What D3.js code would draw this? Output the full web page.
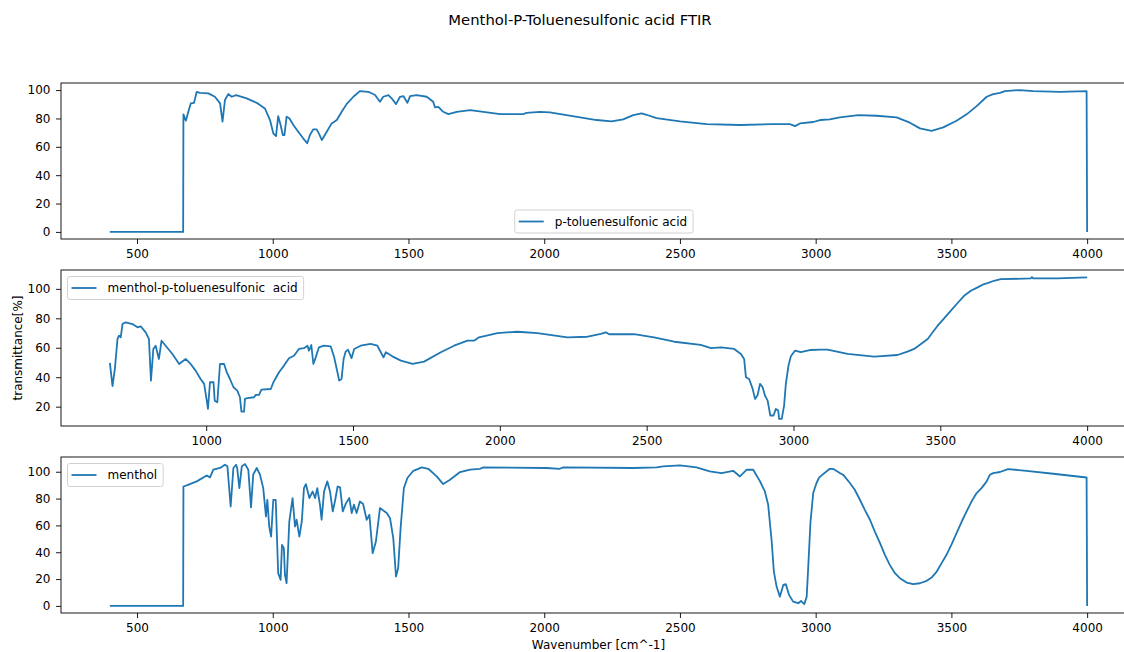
<!DOCTYPE html>
<html>
<head>
<meta charset="utf-8">
<script src="https://cdn.jsdelivr.net/npm/d3@7"></script>
<style>
  body { margin: 0; background: #fff; }
  svg { display: block; font-family: "DejaVu Sans", sans-serif; }
</style>
</head>
<body>
<div id="chart"></div>
<script>
// [wavenumber, transmittance]
const ptsa = [
  [400, 0], [670, 0], [671, 82.9], [680, 78.4], [689, 84.7], [698, 90.6], [710, 91], [720, 98.8],
  [732, 98.1], [763, 97.7], [787, 95.3], [806, 90.6], [815, 77.7], [824, 93], [836, 97.2], [849, 95.3],
  [865, 96.5], [904, 94.2], [941, 91], [971, 87.1], [990, 78.9], [1002, 69.5], [1012, 67.6], [1020, 81.7],
  [1029, 75.4], [1037, 68.3], [1043, 68.3], [1051, 81.2], [1061, 80.1], [1076, 75.4], [1094, 70.6],
  [1112, 66], [1127, 62.5], [1137, 68.3], [1149, 72.3], [1162, 72.3], [1171, 69], [1181, 64.8],
  [1199, 70.6], [1217, 76.5], [1236, 78.9], [1254, 84.7], [1272, 90.1], [1297, 95.3], [1321, 99.3],
  [1352, 98.8], [1377, 96.5], [1395, 91.8], [1407, 95.3], [1426, 96.5], [1438, 94.2], [1454, 90.1],
  [1469, 95.3], [1481, 95.8], [1496, 91], [1506, 95.8], [1530, 96.5], [1567, 95.3], [1591, 91.8],
  [1598, 87.8], [1610, 88.2], [1628, 84.7], [1647, 83.1], [1678, 84.7], [1727, 85.9], [1776, 84.7],
  [1837, 83.1], [1923, 83.1], [1935, 84], [1984, 84.7], [2021, 84.3], [2132, 80.8], [2193, 78.9],
  [2248, 78], [2291, 79.4], [2328, 82.4], [2359, 83.6], [2377, 82.6], [2414, 80.3], [2500, 78],
  [2598, 76], [2721, 75.4], [2844, 76], [2905, 76], [2924, 74.6], [2942, 76.5], [2991, 77.5],
  [3016, 78.9], [3052, 79.4], [3089, 80.8], [3157, 82.4], [3224, 81.9], [3298, 80.8], [3347, 77],
  [3384, 73], [3427, 71.3], [3470, 73.7], [3519, 78.4], [3556, 82.9], [3593, 88.7], [3630, 95.3],
  [3654, 97.2], [3679, 98.1], [3697, 99.3], [3752, 100], [3801, 99.3], [3899, 98.8], [3998, 99.3],
  [4000, 0]
];

const mentholPtsa = [
  [672, 49.7], [681, 33.9], [689, 45.6], [698, 66], [703, 68.2], [709, 67.1], [715, 76.1], [726, 77.3],
  [749, 76.1], [766, 73.9], [777, 74.6], [794, 70.5], [805, 66], [812, 37.7], [820, 59.2], [828, 61.4],
  [839, 52.4], [848, 64.8], [862, 61.4], [885, 55.8], [908, 49], [930, 52.4], [947, 49], [964, 44.5],
  [981, 38.8], [993, 35.5], [1002, 24.1], [1006, 18.5], [1013, 36.6], [1025, 36.6], [1029, 24.1],
  [1038, 23], [1047, 49], [1061, 49], [1070, 43.4], [1081, 38.8], [1093, 33.2], [1106, 30.9],
  [1115, 26.4], [1120, 16.7], [1129, 16.7], [1132, 25.3], [1140, 25.8], [1163, 26.4], [1169, 28],
  [1180, 28], [1188, 31.6], [1220, 32], [1229, 36.6], [1248, 43.4], [1265, 47.9], [1282, 52.9],
  [1299, 54.6], [1316, 59.2], [1333, 59.7], [1345, 61.4], [1350, 58], [1358, 61.9], [1365, 49],
  [1373, 53.5], [1384, 60.3], [1401, 61.4], [1424, 61], [1436, 53.5], [1447, 43.4], [1453, 37.7],
  [1461, 38.8], [1468, 52.4], [1475, 57.4], [1483, 58.7], [1495, 52.9], [1504, 59.2], [1526, 61.4],
  [1560, 62.6], [1583, 61.4], [1592, 58], [1604, 53.5], [1612, 57], [1634, 54.2], [1663, 51.3],
  [1703, 49], [1742, 50.6], [1799, 57], [1844, 61.4], [1890, 64.8], [1912, 64.8], [1929, 67.1],
  [1992, 70], [2060, 70.9], [2128, 70], [2230, 67.1], [2299, 67.5], [2344, 69.4], [2361, 70.5],
  [2372, 69.2], [2457, 69.2], [2525, 67.1], [2594, 64.1], [2684, 61.9], [2719, 59.7], [2753, 60.3],
  [2798, 59.2], [2821, 55.8], [2832, 52.4], [2838, 40], [2849, 38.8], [2861, 32.1], [2869, 25.3],
  [2878, 28], [2886, 35.5], [2895, 33.2], [2903, 27.5], [2912, 24.1], [2921, 14], [2932, 14],
  [2940, 18.5], [2948, 17.4], [2951, 11.7], [2960, 11.7], [2968, 20.7], [2974, 35.5], [2983, 47.9],
  [2991, 54.2], [3005, 58], [3025, 57], [3059, 58.5], [3093, 58.7], [3116, 58.7], [3184, 55.8],
  [3275, 54], [3354, 55.1], [3388, 57.4], [3411, 59.2], [3434, 62.6], [3457, 66], [3474, 70.5],
  [3491, 75], [3513, 80], [3536, 85.2], [3559, 90.4], [3581, 95.3], [3604, 98.7], [3627, 101],
  [3649, 103.3], [3661, 103.9], [3683, 105.5], [3706, 106.6], [3808, 107.1], [3812, 108], [3816, 107.1],
  [3899, 107.1], [4000, 107.8]
];

const menthol = [
  [400, 0], [670, 0], [671, 89], [683, 89.8], [720, 92.8], [757, 97.2], [769, 95.8], [781, 101.5],
  [806, 102.8], [824, 105.2], [833, 104], [845, 74.1], [855, 102.8], [865, 105.2], [869, 102.8],
  [877, 87.8], [886, 104], [898, 105.7], [910, 101.5], [920, 73.4], [928, 97.8], [941, 102.8],
  [953, 97.8], [965, 87.8], [975, 66.6], [980, 79.1], [987, 59.2], [994, 51.7], [1002, 79.1],
  [1011, 79.1], [1020, 24.4], [1029, 19.4], [1034, 45.5], [1041, 43], [1045, 23.1], [1051, 16.9],
  [1061, 62.9], [1073, 80.4], [1082, 59.2], [1088, 64.2], [1098, 51.7], [1107, 62.9], [1115, 87.8],
  [1122, 90.8], [1135, 80.4], [1147, 85.3], [1156, 80.4], [1164, 87.8], [1174, 75.4], [1180, 64.2],
  [1189, 85.3], [1201, 92.8], [1211, 85.3], [1221, 70.4], [1229, 77.8], [1239, 89], [1248, 88.3],
  [1258, 70.4], [1270, 76.6], [1282, 80.4], [1291, 69.2], [1299, 75.4], [1309, 69.2], [1321, 77.8],
  [1333, 75.9], [1346, 64.2], [1356, 67.9], [1368, 39.3], [1380, 48], [1395, 72.9], [1420, 69.2],
  [1432, 65.4], [1444, 50.5], [1454, 21.9], [1462, 28.1], [1471, 58], [1483, 87.8], [1496, 95.3],
  [1518, 100.7], [1549, 103.2], [1573, 102.2], [1604, 96.5], [1628, 90.8], [1653, 94], [1690, 99.8],
  [1727, 101.5], [1763, 102.2], [1776, 103.2], [2009, 102.8], [2058, 102.2], [2070, 103.2],
  [2328, 102.8], [2414, 103.2], [2438, 104], [2500, 104.7], [2561, 103.2], [2610, 100.2], [2653, 99],
  [2696, 100.7], [2721, 96.5], [2746, 101.5], [2770, 101.5], [2795, 92.8], [2813, 85.3], [2825, 75.4],
  [2838, 48], [2846, 25.6], [2856, 14.4], [2868, 6.9], [2881, 15.7], [2890, 16.2], [2902, 8.2],
  [2917, 3.2], [2936, 2], [2946, 3.7], [2958, 1.3], [2967, 6.9], [2973, 30.6], [2981, 62.9],
  [2991, 84.1], [3003, 91.6], [3013, 95.8], [3052, 102.2], [3064, 102.2], [3089, 99], [3101, 97.8],
  [3126, 91.6], [3144, 86.6], [3163, 79.1], [3181, 71.6], [3200, 64.2], [3218, 55.4], [3237, 46.8],
  [3255, 38], [3273, 30.6], [3292, 24.4], [3310, 20.7], [3335, 17.4], [3359, 16.2], [3384, 16.9],
  [3409, 18.7], [3427, 21.1], [3446, 25.6], [3464, 31.9], [3482, 38.1], [3501, 46], [3519, 54.3],
  [3538, 62.9], [3556, 70.4], [3574, 77.8], [3593, 84.1], [3611, 87.8], [3630, 92.8], [3642, 97.8],
  [3654, 99], [3679, 99.8], [3709, 102], [3777, 100.7], [3875, 98.5], [3998, 95.7], [4000, 0]
];

const seriesNames = ["p-toluenesulfonic acid", "menthol-p-toluenesulfonic  acid", "menthol"];
const legendSpots = ["lower center", "upper left", "upper left"];
const titleText = "Menthol-P-Toluenesulfonic acid FTIR";
const xLabelText = "Wavenumber [cm^-1]";
const yLabelText = "transmittance[%]";

const width = 1124;
const height = 652;
const axLeft = 61;
const axWidth = 1075; // runs past the right edge of the picture, like the original
const panelTops = [83, 270, 457];
const panelHeight = 156;
const blue = "#1f77b4";

const svg = d3.select("#chart").append("svg")
  .attr("width", width)
  .attr("height", height);

svg.append("rect").attr("width", width).attr("height", height).attr("fill", "#fff");

// matplotlib style 5% padding around the data
const padded = (vals) => {
  const [lo, hi] = d3.extent(vals);
  const p = (hi - lo) * 0.05;
  return [lo - p, hi + p];
};

const allSeries = [ptsa, mentholPtsa, menthol];

allSeries.forEach((data, i) => {
  const top = panelTops[i];
  const g = svg.append("g").attr("transform", `translate(${axLeft},${top})`);

  const x = d3.scaleLinear().domain(padded(data.map((d) => d[0]))).range([0, axWidth]);
  const y = d3.scaleLinear().domain(padded(data.map((d) => d[1]))).range([panelHeight, 0]);

  const xAxis = g.append("g")
    .attr("transform", `translate(0,${panelHeight})`)
    .call(d3.axisBottom(x).ticks(8).tickFormat(d3.format("d")).tickSize(5).tickPadding(5.5));
  const yAxis = g.append("g")
    .call(d3.axisLeft(y).ticks(6).tickFormat(d3.format("d")).tickSize(5).tickPadding(5.5));

  [xAxis, yAxis].forEach((a) => {
    a.select(".domain").remove();
    a.selectAll("text").attr("font-size", 12).attr("fill", "#000").attr("font-family", "DejaVu Sans");
    a.selectAll("line").attr("stroke", "#000").attr("stroke-width", 0.9);
  });

  const line = d3.line().x((d) => x(d[0])).y((d) => y(d[1]));
  g.append("path")
    .datum(data)
    .attr("d", line)
    .attr("fill", "none")
    .attr("stroke", blue)
    .attr("stroke-width", 1.8)
    .attr("stroke-linejoin", "round");

  // spines
  g.append("rect")
    .attr("width", axWidth)
    .attr("height", panelHeight)
    .attr("fill", "none")
    .attr("stroke", "#000")
    .attr("stroke-width", 0.9);

  // legend
  const lg = g.append("g");
  const box = lg.append("rect")
    .attr("rx", 2.5)
    .attr("fill", "#fff")
    .attr("fill-opacity", 0.8)
    .attr("stroke", "#ccc")
    .attr("stroke-width", 0.9);
  const txt = lg.append("text")
    .attr("x", 40)
    .attr("y", 11.5)
    .attr("dy", "0.35em")
    .attr("font-size", 12)
    .style("white-space", "pre")
    .text(seriesNames[i]);
  lg.append("line")
    .attr("x1", 4).attr("x2", 29)
    .attr("y1", 11.5).attr("y2", 11.5)
    .attr("stroke", blue)
    .attr("stroke-width", 1.8);
  const boxW = 40 + txt.node().getComputedTextLength() + 6;
  const boxH = 23;
  box.attr("width", boxW).attr("height", boxH);
  if (legendSpots[i] === "lower center") {
    lg.attr("transform", `translate(${x(2220) - boxW / 2},${panelHeight - boxH - 6})`);
  } else {
    lg.attr("transform", "translate(6.5,6.5)");
  }
});

svg.append("text")
  .attr("x", 580)
  .attr("y", 25)
  .attr("text-anchor", "middle")
  .attr("font-size", 14.8)
  .text(titleText);

svg.append("text")
  .attr("x", axLeft + axWidth / 2)
  .attr("y", 649)
  .attr("text-anchor", "middle")
  .attr("font-size", 12)
  .text(xLabelText);

svg.append("text")
  .attr("transform", `translate(21.5,${panelTops[1] + panelHeight / 2}) rotate(-90)`)
  .attr("text-anchor", "middle")
  .attr("font-size", 12)
  .text(yLabelText);
</script>
</body>
</html>
